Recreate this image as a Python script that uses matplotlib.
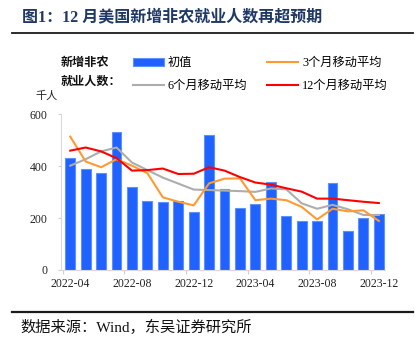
import matplotlib
matplotlib.use("Agg")
import matplotlib.pyplot as plt
from matplotlib.lines import Line2D
import numpy as np

plt.rcParams['font.family'] = ['Liberation Serif', 'Noto Sans CJK SC', 'DejaVu Sans']

months = ['2022-04', '2022-05', '2022-06', '2022-07', '2022-08', '2022-09', '2022-10',
          '2022-11', '2022-12', '2023-01', '2023-02', '2023-03', '2023-04', '2023-05',
          '2023-06', '2023-07', '2023-08', '2023-09', '2023-10', '2023-11', '2023-12']
initial = [430, 391, 374, 530, 318, 264, 262, 264, 224, 521, 313, 237, 255, 341,
           210, 189, 189, 337, 151, 199, 216]
ma3 = [514, 418, 396, 427, 402, 373, 280, 263, 249, 334, 352, 353, 269, 275,
       269, 243, 195, 236, 226, 230, 189]
ma6 = [402, 427, 457, 472, 414, 385, 356, 333, 310, 308, 306, 304, 301, 314,
       311, 257, 236, 251, 234, 212, 212]
ma12 = [460, 472, 457, 431, 383, 385, 391, 370, 371, 396, 383, 358, 337, 329,
        315, 302, 275, 275, 269, 263, 258]
tick_labels = ['2022-04', '2022-08', '2022-12', '2023-04', '2023-08', '2023-12']
yticks = [0, 200, 400, 600]

W, H = 417, 350
fig = plt.figure(figsize=(W / 100, H / 100), dpi=100)
ax = fig.add_axes([61 / W, 1 - 270 / H, (385 - 61) / W, (270 - 114.3) / H])

x = np.arange(len(months))
bars = ax.bar(x, initial, width=0.64, color='#1F62FF', edgecolor='#5C92FF',
              linewidth=0.8, zorder=2, label='初值')
l6, = ax.plot(x, ma6, color='#ADADAD', lw=1.5, zorder=3, label='6个月移动平均')
l3, = ax.plot(x, ma3, color='#FF9A33', lw=1.5, zorder=4, label='3个月移动平均')
l12, = ax.plot(x, ma12, color='#FF0000', lw=1.5, zorder=5, label='12个月移动平均')

ax.set_xlim(-0.6, 20.4)
ax.set_ylim(0, 600)
ax.set_yticks(yticks)
ax.set_yticklabels([str(v) for v in yticks])
pos = [months.index(t) for t in tick_labels]
ax.set_xticks(pos)
ax.set_xticklabels(tick_labels)
ax.set_xticks([p - 0.5 for p in pos], minor=True)
ax.tick_params(axis='x', which='major', length=0, pad=6, labelsize=8.5, colors='#222222')
ax.tick_params(axis='x', which='minor', length=3, color='#D0D0D0', width=0.8)
ax.tick_params(axis='y', length=2.5, color='#D0D0D0', width=0.8, pad=7,
               labelsize=8.5, labelcolor='#222222')
for s in ['top', 'right']:
    ax.spines[s].set_visible(False)
for s in ['left', 'bottom']:
    ax.spines[s].set_color('#D9D9D9')
    ax.spines[s].set_linewidth(0.8)

handles = [bars, l6, l3, l12]
labels = ['初值', '6个月移动平均', '3个月移动平均', '12个月移动平均']
fig.legend(handles, labels, ncol=2, loc='upper left',
           bbox_to_anchor=(133 / W, 1 - 57 / H), bbox_transform=fig.transFigure,
           frameon=False, handlelength=2.5, handleheight=0.6,
           handletextpad=0.33, columnspacing=1.65, labelspacing=0.9,
           borderpad=0, borderaxespad=0, prop={'size': 8.8})

fig.text(61 / W, 1 - 63 / H, '新增非农', fontsize=8.7, fontweight='bold',
         va='center', ha='left', color='#111111')
fig.text(61 / W, 1 - 82 / H, '就业人数：', fontsize=8.7, fontweight='bold',
         va='center', ha='left', color='#111111')
fig.text(35 / W, 1 - 96 / H, '千人', fontsize=8, va='center', ha='left', color='#222222')

fig.text(22 / W, 1 - 17 / H, '图1：12 月美国新增非农就业人数再超预期', fontsize=11.5,
         fontweight='bold', va='center', ha='left', color='#1F3864')
fig.add_artist(Line2D([12 / W, 413 / W], [1 - 33 / H, 1 - 33 / H], color='#1a1a1a',
                      lw=1.3, transform=fig.transFigure))
fig.add_artist(Line2D([12 / W, 413 / W], [1 - 312 / H, 1 - 312 / H], color='#1a1a1a',
                      lw=1.6, transform=fig.transFigure))
fig.text(20 / W, 1 - 327 / H, '数据来源：Wind，东吴证券研究所', fontsize=11,
         va='center', ha='left', color='#111111')

fig.savefig('out.png', dpi=100)
